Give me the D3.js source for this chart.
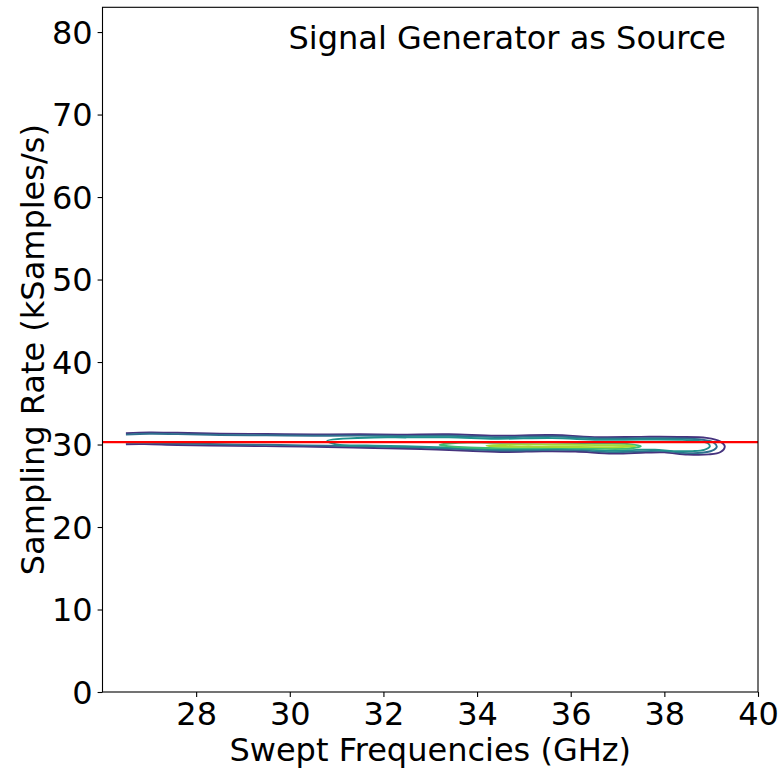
<!DOCTYPE html>
<html>
<head>
<meta charset="utf-8">
<script src="https://cdn.jsdelivr.net/npm/d3@7"></script>
<style>
  body { margin: 0; background: #fff; }
  svg text { font-family: "DejaVu Sans", sans-serif; fill: #000; }
</style>
</head>
<body>
<svg id="chart" width="782" height="769"></svg>
<script>
// axis settings
const xDomain = [26, 40];
const yDomain = [0, 83];
const xTicks = [28, 30, 32, 34, 36, 38, 40];
const yTicks = [0, 10, 20, 30, 40, 50, 60, 70, 80];
const refRate = 30.3; // red reference line (kSamples/s)

// KDE contour lines, [GHz, kSamples/s], outer level first
// the two outer levels are cut at the lowest swept frequency, so they stay open
const level1 = [[26.5,31.37],[27.0,31.47],[27.6,31.42],[28.5,31.32],[29.5,31.28],[30.5,31.22],[31.5,31.25],[32.3,31.2],[33.4,31.24],[34.4,31.07],[35.6,31.15],[36.6,30.9],[37.5,30.93],[38.3,30.92],[38.9,30.8],
  [39.2,30.35],[39.29,29.75],[39.2,29.1],[38.95,28.8],
  [38.5,28.78],[38.0,29.05],[37.6,29.02],[36.9,28.9],[36.1,29.15],[35.4,29.18],[34.6,29.1],[33.8,29.25],[32.8,29.45],[31.8,29.57],[30.8,29.7],[29.8,29.78],[28.8,29.85],[27.6,29.95],[26.9,30.05],[26.5,30.04]];
const level2 = [[26.5,31.2],[27.0,31.3],[27.6,31.26],[28.5,31.16],[29.5,31.12],[30.5,31.06],[31.5,31.08],[32.3,31.04],[33.4,31.06],[34.4,30.9],[35.6,30.97],[36.6,30.74],[37.5,30.76],[38.3,30.74],[38.8,30.6],
  [39.05,30.25],[39.12,29.75],[39.02,29.25],[38.8,29.0],
  [38.4,28.99],[38.0,29.22],[37.6,29.2],[36.9,29.08],[36.1,29.32],[35.4,29.34],[34.6,29.27],[33.8,29.42],[32.8,29.62],[31.8,29.74],[30.8,29.86],[29.8,29.94],[28.8,30.01],[27.6,30.12],[26.9,30.2],[26.5,30.2]];
const level3 = [[30.8,30.45],[31.8,30.85],[32.5,30.86],[33.4,30.88],[34.4,30.7],[35.6,30.78],[36.6,30.58],[37.5,30.6],[38.3,30.58],[38.7,30.46],
  [38.93,30.15],[38.97,29.75],[38.85,29.35],[38.6,29.2],
  [38.2,29.2],[37.8,29.37],[37.4,29.35],[36.9,29.24],[36.1,29.47],[35.4,29.47],[34.6,29.42],[33.8,29.57],[32.8,29.74],[31.8,29.87],[31.0,30.0]];
const level4 = [[33.2,29.95],[33.6,30.22],[34.4,30.2],[35.6,30.24],[36.6,30.12],[37.2,30.07],[37.5,29.8],[37.2,29.5],[36.6,29.48],[35.8,29.6],[35.0,29.56],[34.2,29.58],[33.6,29.7]];
const level5 = [[34.2,29.85],[34.6,29.97],[35.6,29.98],[36.6,29.93],[37.2,29.9],[37.38,29.78],[37.1,29.68],[36.2,29.7],[35.2,29.72],[34.5,29.74]];
const levels = [level1, level2, level3, level4, level5];
const levelClosed = [false, false, true, true, true];
const levelColors = ["#46337e", "#2f6f8e", "#21918c", "#3fbc73", "#a5db36"];

const svg = d3.select('#chart');
const margin = { left: 102.5, right: 24, top: 7.3, bottom: 77 };
const width = 782 - margin.left - margin.right;
const height = 769 - margin.top - margin.bottom;
const fontSize = 32;

const chart = svg.append('g')
  .attr('transform', `translate(${margin.left}, ${margin.top})`);

const xScale = d3.scaleLinear().domain(xDomain).range([0, width]);
const yScale = d3.scaleLinear().domain(yDomain).range([height, 0]);

// contours
const openLine = d3.line()
  .x(d => xScale(d[0]))
  .y(d => yScale(d[1]))
  .curve(d3.curveCatmullRom.alpha(0.5));
const closedLine = d3.line()
  .x(d => xScale(d[0]))
  .y(d => yScale(d[1]))
  .curve(d3.curveCatmullRomClosed.alpha(0.5));

chart.append('g')
  .selectAll('path')
  .data(levels)
  .enter()
  .append('path')
  .attr('d', (d, i) => levelClosed[i] ? closedLine(d) : openLine(d))
  .attr('fill', 'none')
  .attr('stroke', (d, i) => levelColors[i])
  .attr('stroke-width', 1.9);

// red reference line
chart.append('line')
  .attr('x1', xScale(xDomain[0]))
  .attr('x2', xScale(xDomain[1]))
  .attr('y1', yScale(refRate))
  .attr('y2', yScale(refRate))
  .attr('stroke', '#ff0000')
  .attr('stroke-width', 2.3);

// axes
const xAxis = chart.append('g')
  .attr('transform', `translate(0, ${height})`)
  .call(d3.axisBottom(xScale).tickValues(xTicks).tickSize(4.9).tickPadding(4.9).tickSizeOuter(0));
const yAxis = chart.append('g')
  .call(d3.axisLeft(yScale).tickValues(yTicks).tickSize(4.9).tickPadding(4.9).tickSizeOuter(0));

[xAxis, yAxis].forEach(ax => {
  ax.select('.domain').remove();
  ax.selectAll('line').attr('stroke', '#000').attr('stroke-width', 1.1);
  ax.selectAll('text')
    .style('font-family', '"DejaVu Sans", sans-serif')
    .style('font-size', fontSize + 'px')
    .attr('fill', '#000');
});
xAxis.selectAll('text').attr('dy', null).attr('y', 33);
yAxis.selectAll('text').attr('dy', '0.35em');

// frame
chart.append('rect')
  .attr('width', width)
  .attr('height', height)
  .attr('fill', 'none')
  .attr('stroke', '#000')
  .attr('stroke-width', 1.1);

// labels
svg.append('text')
  .attr('x', margin.left + width / 2)
  .attr('y', 761)
  .attr('text-anchor', 'middle')
  .style('font-size', fontSize + 'px')
  .text('Swept Frequencies (GHz)');

svg.append('text')
  .attr('transform', `translate(44, ${margin.top + height / 2}) rotate(-90)`)
  .attr('text-anchor', 'middle')
  .style('font-size', fontSize + 'px')
  .text('Sampling Rate (kSamples/s)');

svg.append('text')
  .attr('x', 726)
  .attr('y', 48.5)
  .attr('text-anchor', 'end')
  .style('font-size', fontSize + 'px')
  .text('Signal Generator as Source');
</script>
</body>
</html>
